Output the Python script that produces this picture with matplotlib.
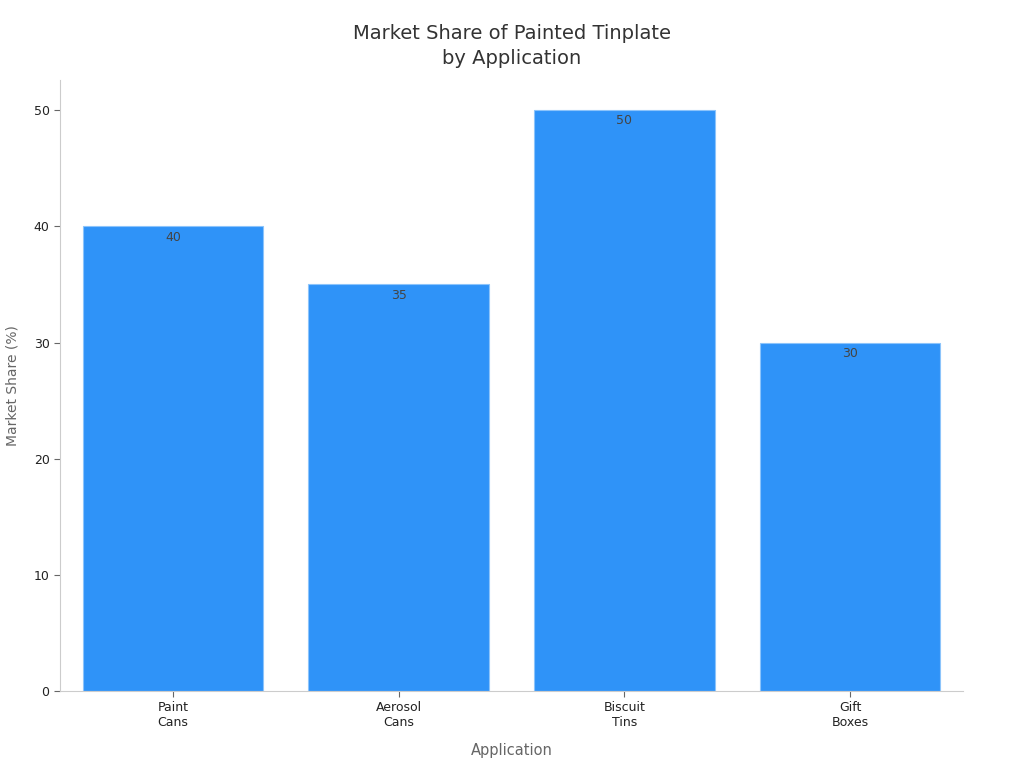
import matplotlib.pyplot as plt

# data
categories = ['Paint\nCans', 'Aerosol\nCans', 'Biscuit\nTins', 'Gift\nBoxes']
shares = [40, 35, 50, 30]

fig = plt.figure(figsize=(10.24, 7.68), dpi=100)
ax = fig.add_axes([0.0586, 0.1003, 0.8818, 0.7955])

x = range(len(categories))
bars = ax.bar(x, shares, width=0.8, color='#2f93f8', edgecolor='#8cc4fb', linewidth=0.8)

# value labels just inside the top of each bar
for b, v in zip(bars, shares):
    ax.annotate(str(v), (b.get_x() + b.get_width() / 2, v), xytext=(0, -3),
                textcoords='offset points', ha='center', va='top',
                fontsize=9, color='#444444')

ax.set_xlim(-0.5, 3.5)
ax.set_ylim(0, 52.6)
ax.set_xticks(list(x), categories)
ax.set_yticks([0, 10, 20, 30, 40, 50])
ax.tick_params(axis='both', labelsize=9, colors='#222222', length=4)
ax.tick_params(axis='both', color='#666666')

for s in ['top', 'right']:
    ax.spines[s].set_visible(False)
for s in ['left', 'bottom']:
    ax.spines[s].set_color('#cccccc')

ax.set_xlabel('Application', fontsize=10.5, color='#666666', labelpad=10)
ax.set_ylabel('Market Share (%)', fontsize=10, color='#666666', labelpad=10)
fig.text(0.5, 0.94, 'Market Share of Painted Tinplate\nby Application',
         ha='center', va='center', fontsize=14, color='#333333', linespacing=1.45)

fig.savefig('out.png', dpi=100)
